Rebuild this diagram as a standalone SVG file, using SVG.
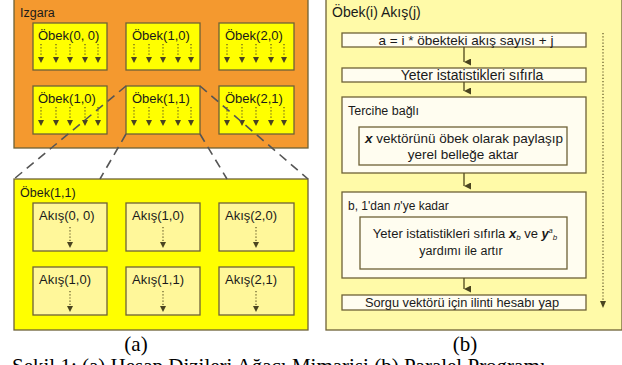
<svg xmlns="http://www.w3.org/2000/svg" width="622" height="365" viewBox="0 0 622 365">
<style>
text{font-family:"Liberation Sans",Arial,sans-serif;fill:#1a1a1a}
.lbl{font-size:12.5px}
.bt{font-size:13px}
.rt{font-size:13.5px;text-anchor:middle}
.cap{font-family:"Liberation Serif","Times New Roman",serif;font-size:21px;fill:#000}
.frame{stroke:#6e6236;stroke-width:1.3}
.dot{stroke:#5a5224;stroke-width:1.2;stroke-dasharray:1.2 2;fill:none}
.sol{stroke:#5a5224;stroke-width:1.4;fill:none}
.dash{stroke:#555;stroke-width:1.6;stroke-dasharray:9 6;fill:none}
</style>
<defs>
<marker id="ah" viewBox="0 0 10 10" refX="5" refY="10" markerWidth="7" markerHeight="7" orient="auto-start-reverse" markerUnits="userSpaceOnUse">
<path d="M0,0 L10,0 L5,10 Z" fill="#4a4420"/>
</marker>
<g id="arr5">
<path class="dot" d="M8,21 V33 M23,21 V33 M37,21 V33 M52,21 V33 M65,21 V33"/>
<path d="M5,34 h6 l-3,6 Z M20,34 h6 l-3,6 Z M34,34 h6 l-3,6 Z M49,34 h6 l-3,6 Z M62,34 h6 l-3,6 Z" fill="#4a4420"/>
</g>
<g id="arr1">
<path class="dot" d="M37,24 V38"/>
<path d="M34,39 h6 l-3,6 Z" fill="#4a4420"/>
</g>
</defs>

<!-- (a) Izgara -->
<g id="izgara">
<rect x="14" y="-1" width="294" height="149" fill="#F4992F" class="frame"/>
<text x="20" y="17" class="lbl">Izgara</text>
</g>
<g id="obek00"><rect x="33" y="23" width="74" height="47" fill="#FFFF00" class="frame"/><text x="38" y="40" class="bt">Öbek(0, 0)</text><use href="#arr5" x="33" y="23"/></g>
<g id="obek10"><rect x="126" y="23" width="74" height="47" fill="#FFFF00" class="frame"/><text x="132" y="40" class="bt">Öbek(1,0)</text><use href="#arr5" x="126" y="23"/></g>
<g id="obek20"><rect x="219" y="23" width="75" height="47" fill="#FFFF00" class="frame"/><text x="225" y="40" class="bt">Öbek(2,0)</text><use href="#arr5" x="219" y="23"/></g>
<g id="obek10b"><rect x="33" y="86" width="74" height="48" fill="#FFFF00" class="frame"/><text x="38" y="103" class="bt">Öbek(1,0)</text><use href="#arr5" x="33" y="86"/></g>
<g id="obek11"><rect x="126" y="86" width="74" height="48" fill="#FFFF00" class="frame"/><text x="132" y="103" class="bt">Öbek(1,1)</text><use href="#arr5" x="126" y="86"/></g>
<g id="obek21"><rect x="219" y="86" width="75" height="48" fill="#FFFF00" class="frame"/><text x="225" y="103" class="bt">Öbek(2,1)</text><use href="#arr5" x="219" y="86"/></g>

<!-- (a) Öbek(1,1) expanded -->
<g id="obek11big">
<rect x="14" y="179" width="294" height="151" fill="#FFFF00" class="frame"/>
<text x="20" y="197" class="lbl">Öbek(1,1)</text>
</g>
<g id="akis00"><rect x="33" y="203" width="74" height="48" fill="#FFF79A" class="frame"/><text x="39" y="220" class="bt">Akış(0, 0)</text><use href="#arr1" x="33" y="203"/></g>
<g id="akis10"><rect x="126" y="203" width="74" height="48" fill="#FFF79A" class="frame"/><text x="132" y="220" class="bt">Akış(1,0)</text><use href="#arr1" x="126" y="203"/></g>
<g id="akis20"><rect x="219" y="203" width="75" height="48" fill="#FFF79A" class="frame"/><text x="225" y="220" class="bt">Akış(2,0)</text><use href="#arr1" x="219" y="203"/></g>
<g id="akis10b"><rect x="33" y="267" width="74" height="48" fill="#FFF79A" class="frame"/><text x="39" y="284" class="bt">Akış(1,0)</text><use href="#arr1" x="33" y="267"/></g>
<g id="akis11"><rect x="126" y="267" width="74" height="48" fill="#FFF79A" class="frame"/><text x="132" y="284" class="bt">Akış(1,1)</text><use href="#arr1" x="126" y="267"/></g>
<g id="akis21"><rect x="219" y="267" width="75" height="48" fill="#FFF79A" class="frame"/><text x="225" y="284" class="bt">Akış(2,1)</text><use href="#arr1" x="219" y="267"/></g>

<g id="connectors-a">
<path class="dash" d="M126,86 L14,179"/>
<path class="dash" d="M200,86 L308,179"/>
<path class="dash" d="M126,134 L100,179"/>
<path class="dash" d="M200,134 L227,179"/>
</g>

<!-- (b) -->
<g id="panelb">
<rect x="326" y="-1" width="296" height="331" fill="#FFFAA8" class="frame"/>
<text x="332" y="17" style="font-size:14px">Öbek(i) Akış(j)</text>
</g>
<g id="b1"><rect x="342" y="33" width="244" height="14" fill="#FFFDF0" class="frame"/><text x="466" y="45" class="rt">a = i * öbekteki akış sayısı + j</text></g>
<g id="b2"><rect x="342" y="68" width="244" height="14" fill="#FFFDF0" class="frame"/><text x="472" y="80" class="rt" style="font-size:14px">Yeter istatistikleri sıfırla</text></g>
<g id="b3"><rect x="342" y="97" width="244" height="76" fill="#FFFDF0" class="frame"/><text x="348" y="115" class="lbl">Tercihe bağlı</text></g>
<g id="b3i"><rect x="359" y="127" width="208" height="38" fill="#FFFDF0" class="frame"/>
<text x="464" y="143" class="rt"><tspan font-weight="bold" font-style="italic">x</tspan> vektörünü öbek olarak paylaşıp</text>
<text x="463" y="159" class="rt">yerel belleğe aktar</text></g>
<g id="b4"><rect x="342" y="192" width="244" height="86" fill="#FFFDF0" class="frame"/><text x="348" y="210" style="font-size:12px">b, 1'dan <tspan font-style="italic">n</tspan>'ye kadar</text></g>
<g id="b4i"><rect x="360" y="217" width="207" height="52" fill="#FFFDF0" class="frame"/>
<text x="465" y="238" class="rt" style="font-size:13px">Yeter istatistikleri sıfırla <tspan font-weight="bold" font-style="italic">x</tspan><tspan font-style="italic" font-size="8px" dy="2">b</tspan><tspan dy="-2"> ve </tspan><tspan font-weight="bold" font-style="italic">y</tspan><tspan font-style="italic" font-size="7px" dy="-5">a</tspan><tspan font-style="italic" font-size="8px" dy="7">b</tspan></text>
<text x="461" y="255" class="rt" style="font-size:12.5px">yardımı ile artır</text></g>
<g id="b5"><rect x="342" y="295" width="244" height="15" fill="#FFFDF0" class="frame"/><text x="462" y="307" class="rt" style="font-size:12.8px">Sorgu vektörü için ilinti hesabı yap</text></g>

<g id="connectors-b">
<path class="sol" d="M464,47 V62" marker-end="url(#ah)"/>
<path class="sol" d="M464,82 V91" marker-end="url(#ah)"/>
<path class="sol" d="M464,173 V186" marker-end="url(#ah)"/>
<path class="sol" d="M464,278 V289" marker-end="url(#ah)"/>
<path class="dot" d="M603,33 V300"/>
<path d="M600,301 h6 l-3,7 Z" fill="#4a4420"/>
</g>

<text x="136" y="351" class="cap" text-anchor="middle">(a)</text>
<text x="465" y="351" class="cap" text-anchor="middle">(b)</text>
<text x="12" y="373" class="cap">Şekil 1: (a) Hesap Dizileri Ağacı Mimarisi (b) Paralel Programı</text>
</svg>
